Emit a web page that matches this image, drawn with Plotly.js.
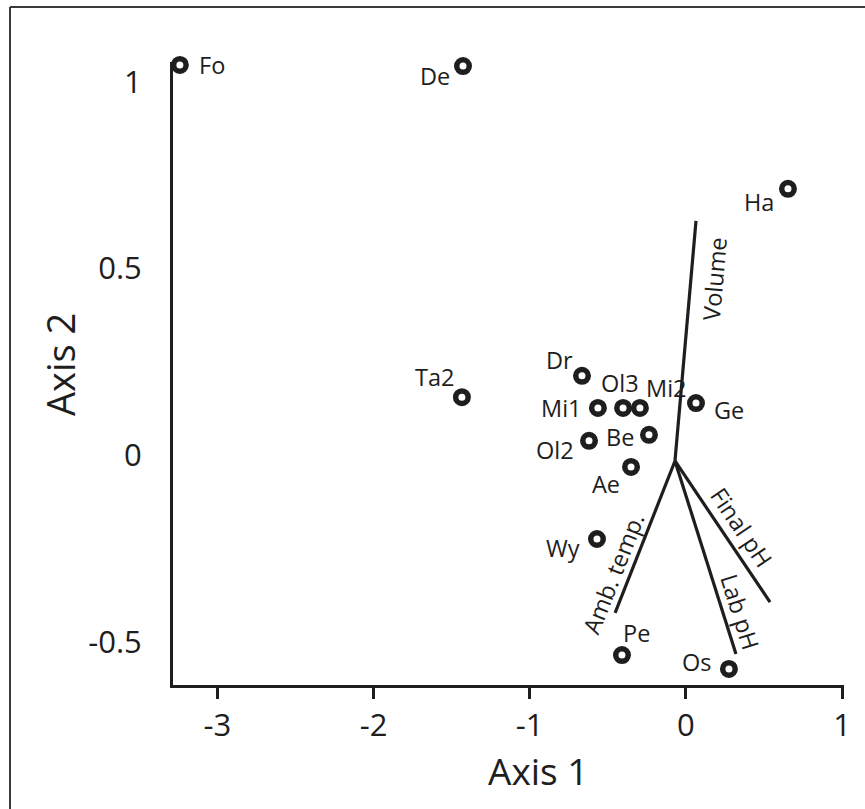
<!DOCTYPE html>
<html>
<head>
<meta charset="utf-8">
<script src="https://cdn.plot.ly/plotly-3.0.1.min.js"></script>
<style>
  html, body { margin: 0; padding: 0; background: #fff; }
  #chart { width: 865px; height: 809px; }
</style>
</head>
<body>
<div id="chart"></div>
<script>
// ---- Data ----
const sites = ['Fo', 'De', 'Ha', 'Ta2', 'Dr', 'Mi1', 'Ol3', 'Mi2', 'Ge', 'Be', 'Ol2', 'Ae', 'Wy', 'Pe', 'Os'];
const axis1 = [-3.240, -1.427, 0.654, -1.434, -0.665, -0.563, -0.402, -0.294, 0.065, -0.236, -0.620, -0.351, -0.569, -0.409, 0.276];
const axis2 = [1.045, 1.042, 0.713, 0.155, 0.212, 0.126, 0.126, 0.126, 0.139, 0.054, 0.038, -0.032, -0.225, -0.536, -0.573];

const variables = ['Volume', 'Amb. temp.', 'Lab pH', 'Final pH'];
const vecOriginX = -0.0695;
const vecOriginY = -0.016;
const vecEndX = [0.065, -0.453, 0.321, 0.539];
const vecEndY = [0.627, -0.423, -0.533, -0.394];

const xTickVals = [-3, -2, -1, 0, 1];
const xTickText = ['-3', '-2', '-1', '0', '1'];
const yTickVals = [-0.5, 0, 0.5, 1];
const yTickText = ['-0.5', '0', '0.5', '1'];

// ---- Presentation (label placement, styles) ----
const siteLabelPlacement = {
  'Fo':  {anchor: 'left',   dx: 18,  dy: 0},
  'De':  {anchor: 'right',  dx: -12, dy: -10},
  'Ha':  {anchor: 'right',  dx: -13, dy: -13},
  'Ta2': {anchor: 'right',  dx: -7,  dy: 20},
  'Dr':  {anchor: 'right',  dx: -8,  dy: 16},
  'Mi1': {anchor: 'right',  dx: -15, dy: 0},
  'Ol3': {anchor: 'center', dx: -3,  dy: 25},
  'Mi2': {anchor: 'left',   dx: 5,   dy: 20},
  'Ge':  {anchor: 'left',   dx: 17,  dy: -7},
  'Be':  {anchor: 'right',  dx: -14, dy: -2},
  'Ol2': {anchor: 'right',  dx: -14, dy: -9},
  'Ae':  {anchor: 'right',  dx: -10, dy: -17},
  'Wy':  {anchor: 'right',  dx: -16, dy: -9},
  'Pe':  {anchor: 'center', dx: 15,  dy: 22},
  'Os':  {anchor: 'right',  dx: -17, dy: 7}
};
// fraction along the vector and pixel shift of each vector label
const vecLabelPlacement = {
  'Volume':     {t: 0.76,  dx: 23,   dy: 0},
  'Amb. temp.': {t: 0.74,  dx: -17,  dy: 0},
  'Lab pH':     {t: 0.78,  dx: 18,   dy: 0},
  'Final pH':   {t: 0.54,  dx: 15,   dy: 10}
};

const INK = '#1e1e1e';
const FONT = '"Open Sans", "Noto Sans", sans-serif';

const W = 865, H = 809;
const margin = {l: 173, r: 21, t: 62, b: 124};
const xRange = [-3.284, 1.0128];
const yRange = [-0.6161, 1.0528];
const plotW = W - margin.l - margin.r;
const plotH = H - margin.t - margin.b;
const pxPerX = plotW / (xRange[1] - xRange[0]);
const pxPerY = plotH / (yRange[1] - yRange[0]);

const traces = [];

// environmental vectors
variables.forEach((name, i) => {
  traces.push({
    type: 'scatter',
    mode: 'lines',
    x: [vecOriginX, vecEndX[i]],
    y: [vecOriginY, vecEndY[i]],
    line: {color: INK, width: 3.2},
    hoverinfo: 'skip',
    showlegend: false,
    cliponaxis: false
  });
});

// sites
traces.push({
  type: 'scatter',
  mode: 'markers',
  x: axis1,
  y: axis2,
  text: sites,
  marker: {symbol: 'circle-open', size: 12.5, color: INK, line: {width: 5.5, color: INK}},
  showlegend: false,
  cliponaxis: false
});

const annotations = [];

sites.forEach((s, i) => {
  const p = siteLabelPlacement[s];
  annotations.push({
    x: axis1[i], y: axis2[i], xref: 'x', yref: 'y',
    text: s, showarrow: false,
    xanchor: p.anchor, yanchor: 'middle',
    xshift: p.dx, yshift: p.dy,
    borderpad: 0,
    font: {family: FONT, size: 23.5, color: INK}
  });
});

variables.forEach((name, i) => {
  const p = vecLabelPlacement[name];
  const ex = vecEndX[i], ey = vecEndY[i];
  const lx = vecOriginX + p.t * (ex - vecOriginX);
  const ly = vecOriginY + p.t * (ey - vecOriginY);
  const dxp = (ex - vecOriginX) * pxPerX;
  const dyp = -(ey - vecOriginY) * pxPerY;
  let ang = Math.atan2(dyp, dxp) * 180 / Math.PI;
  if (ang > 90) ang -= 180;
  if (ang < -90) ang += 180;
  annotations.push({
    x: lx, y: ly, xref: 'x', yref: 'y',
    text: name, showarrow: false,
    xanchor: 'center', yanchor: 'middle',
    xshift: p.dx, yshift: p.dy,
    textangle: ang,
    borderpad: 0,
    font: {family: FONT, size: 23.5, color: INK}
  });
});

// axis titles
function pxToPaperX(px) { return (px - margin.l) / plotW; }
function pxToPaperY(py) { return (H - margin.b - py) / plotH; }

annotations.push({
  x: pxToPaperX(538), y: pxToPaperY(770), xref: 'paper', yref: 'paper',
  text: 'Axis 1', showarrow: false, xanchor: 'center', yanchor: 'middle',
  font: {family: FONT, size: 37, color: INK}
});
annotations.push({
  x: pxToPaperX(60), y: pxToPaperY(364), xref: 'paper', yref: 'paper',
  text: 'Axis 2', showarrow: false, xanchor: 'center', yanchor: 'middle',
  textangle: -90,
  font: {family: FONT, size: 38, color: INK}
});

// outer frame (left and top edges)
const frameColor = '#3a3a3a';
const shapes = [
  {type: 'line', xref: 'paper', yref: 'paper',
   x0: pxToPaperX(10), x1: pxToPaperX(10), y0: pxToPaperY(H), y1: pxToPaperY(7),
   line: {color: frameColor, width: 2}},
  {type: 'line', xref: 'paper', yref: 'paper',
   x0: pxToPaperX(10), x1: pxToPaperX(W), y0: pxToPaperY(7), y1: pxToPaperY(7),
   line: {color: frameColor, width: 2}}
];

const layout = {
  width: W, height: H,
  margin: margin,
  paper_bgcolor: '#ffffff',
  plot_bgcolor: '#ffffff',
  showlegend: false,
  font: {family: FONT, color: INK},
  xaxis: {
    range: xRange,
    tickvals: xTickVals, ticktext: xTickText,
    ticks: 'outside', ticklen: 11, tickwidth: 3, tickcolor: INK,
    showline: true, linewidth: 3, linecolor: INK,
    showgrid: false, zeroline: false,
    tickfont: {family: FONT, size: 31, color: INK},
    fixedrange: true
  },
  yaxis: {
    range: yRange,
    tickvals: yTickVals, ticktext: yTickText,
    ticks: '', ticklabelstandoff: 22,
    showline: true, linewidth: 3, linecolor: INK,
    showgrid: false, zeroline: false,
    tickfont: {family: FONT, size: 31, color: INK},
    fixedrange: true
  },
  annotations: annotations,
  shapes: shapes
};

Plotly.newPlot('chart', traces, layout, {displayModeBar: false, staticPlot: true});
</script>
</body>
</html>
